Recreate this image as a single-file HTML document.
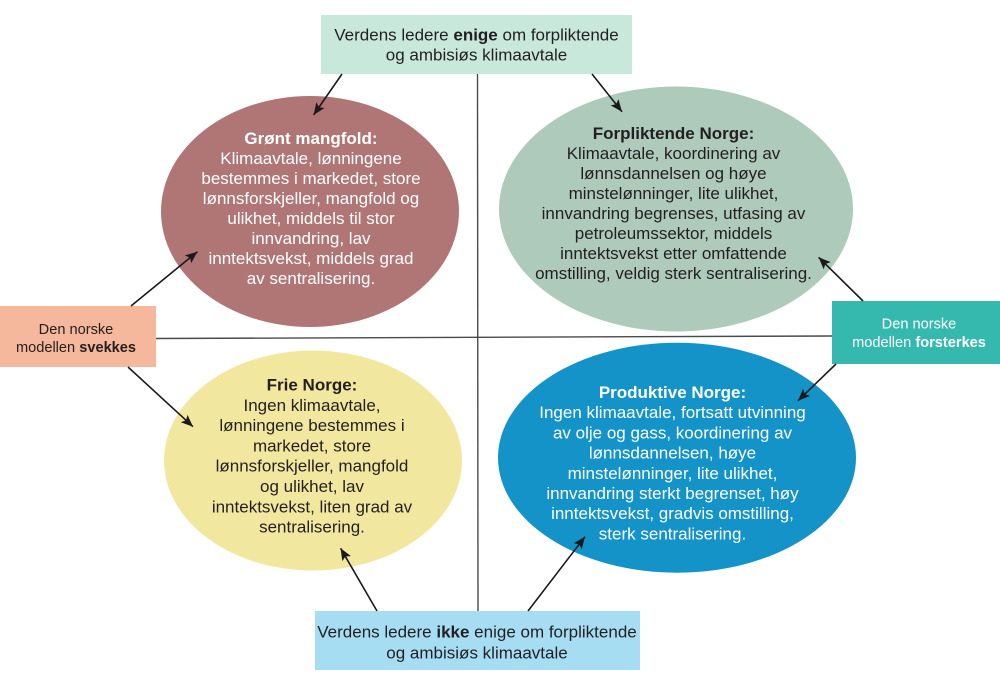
<!DOCTYPE html>
<html><head><meta charset="utf-8"><style>
html,body{margin:0;padding:0;background:#fff;}
svg{display:block;}
text{font-family:"Liberation Sans",Arial,sans-serif;}
</style></head><body>
<svg width="1000" height="686" viewBox="0 0 1000 686" xmlns="http://www.w3.org/2000/svg">
<defs>
<marker id="ah" markerUnits="userSpaceOnUse" markerWidth="14" markerHeight="12" refX="12" refY="5" orient="auto">
<path d="M0,0 L12,5 L0,10 L2.5,5 Z" fill="#1a1a1a"/>
</marker>
</defs>
<rect width="1000" height="686" fill="#fff"/>

<!-- axes -->
<line x1="477.5" y1="74" x2="478" y2="611" stroke="#4a4a4a" stroke-width="1.4"/>
<line x1="156" y1="338.5" x2="832" y2="336" stroke="#4a4a4a" stroke-width="1.4"/>

<!-- ellipses -->
<ellipse cx="310" cy="211.5" rx="149" ry="115.5" fill="#b07575"/>
<ellipse cx="676" cy="209" rx="177" ry="122.5" fill="#adcabb"/>
<ellipse cx="313" cy="460.5" rx="149" ry="110" fill="#f2e79e"/>
<ellipse cx="677" cy="457.7" rx="179" ry="115" fill="#1493c9"/>

<!-- boxes -->
<rect x="321" y="15" width="311" height="59" fill="#c8e8dc"/>
<rect x="0" y="306" width="156" height="61" fill="#f5b89c"/>
<rect x="832" y="301" width="168" height="63" fill="#35b9ae"/>
<rect x="315" y="611" width="325" height="59" fill="#a6ddf3"/>

<!-- arrows -->
<g stroke="#1a1a1a" stroke-width="1.6" fill="none" marker-end="url(#ah)">
<line x1="342" y1="74" x2="313.6" y2="115"/>
<line x1="592" y1="74" x2="622" y2="111.7"/>
<line x1="131" y1="306" x2="197.4" y2="251.7"/>
<line x1="128" y1="367" x2="193" y2="426.7"/>
<line x1="863" y1="301" x2="818.6" y2="257.3"/>
<line x1="836" y1="364" x2="798" y2="400.7"/>
<line x1="377" y1="611" x2="340.6" y2="548.3"/>
<line x1="528" y1="611" x2="585" y2="536.7"/>
</g>

<!-- top box text -->
<text x="476.5" y="40.5" font-size="17" text-anchor="middle" fill="#231f20">Verdens ledere <tspan font-weight="bold">enige</tspan> om forpliktende</text>
<text x="476.5" y="60.5" font-size="17" text-anchor="middle" fill="#231f20">og ambisiøs klimaavtale</text>

<!-- bottom box text -->
<text x="477" y="637.5" font-size="17" text-anchor="middle" fill="#231f20">Verdens ledere <tspan font-weight="bold">ikke</tspan> enige om forpliktende</text>
<text x="477" y="658.5" font-size="17" text-anchor="middle" fill="#231f20">og ambisiøs klimaavtale</text>

<!-- left box -->
<text x="76" y="334" font-size="14.6" text-anchor="middle" fill="#231f20">Den norske</text>
<text x="76" y="352" font-size="14.6" text-anchor="middle" fill="#231f20">modellen <tspan font-weight="bold">svekkes</tspan></text>

<!-- right box -->
<text x="919" y="328.5" font-size="14.6" text-anchor="middle" fill="#ffffff">Den norske</text>
<text x="919" y="347" font-size="14.6" text-anchor="middle" fill="#ffffff">modellen <tspan font-weight="bold">forsterkes</tspan></text>

<!-- red ellipse text -->
<g font-size="17" text-anchor="middle" fill="#ffffff">
<text x="311" y="144" font-weight="bold">Grønt mangfold:</text>
<text x="311" y="164">Klimaavtale, lønningene</text>
<text x="311" y="184">bestemmes i markedet, store</text>
<text x="311" y="204">lønnsforskjeller, mangfold og</text>
<text x="311" y="224">ulikhet, middels til stor</text>
<text x="311" y="244">innvandring, lav</text>
<text x="311" y="264">inntektsvekst, middels grad</text>
<text x="311" y="284">av sentralisering.</text>
</g>

<!-- green ellipse text -->
<g font-size="17" text-anchor="middle" fill="#231f20">
<text x="673.5" y="139" font-weight="bold">Forpliktende Norge:</text>
<text x="673.5" y="159">Klimaavtale, koordinering av</text>
<text x="673.5" y="179">lønnsdannelsen og høye</text>
<text x="673.5" y="199">minstelønninger, lite ulikhet,</text>
<text x="673.5" y="219">innvandring begrenses, utfasing av</text>
<text x="673.5" y="239">petroleumssektor, middels</text>
<text x="673.5" y="259">inntektsvekst etter omfattende</text>
<text x="673.5" y="279">omstilling, veldig sterk sentralisering.</text>
</g>

<!-- yellow ellipse text -->
<g font-size="17" text-anchor="middle" fill="#231f20">
<text x="312" y="390.5" font-weight="bold">Frie Norge:</text>
<text x="312" y="410.8">Ingen klimaavtale,</text>
<text x="312" y="431.1">lønningene bestemmes i</text>
<text x="312" y="451.4">markedet, store</text>
<text x="312" y="471.7">lønnsforskjeller, mangfold</text>
<text x="312" y="492">og ulikhet, lav</text>
<text x="312" y="512.3">inntektsvekst, liten grad av</text>
<text x="312" y="532.6">sentralisering.</text>
</g>

<!-- blue ellipse text -->
<g font-size="17" text-anchor="middle" fill="#ffffff">
<text x="672.5" y="398" font-weight="bold">Produktive Norge:</text>
<text x="672.5" y="418.2">Ingen klimaavtale, fortsatt utvinning</text>
<text x="672.5" y="438.4">av olje og gass, koordinering av</text>
<text x="672.5" y="458.6">lønnsdannelsen, høye</text>
<text x="672.5" y="478.8">minstelønninger, lite ulikhet,</text>
<text x="672.5" y="499">innvandring sterkt begrenset, høy</text>
<text x="672.5" y="519.2">inntektsvekst, gradvis omstilling,</text>
<text x="672.5" y="539.4">sterk sentralisering.</text>
</g>
</svg>
</body></html>
